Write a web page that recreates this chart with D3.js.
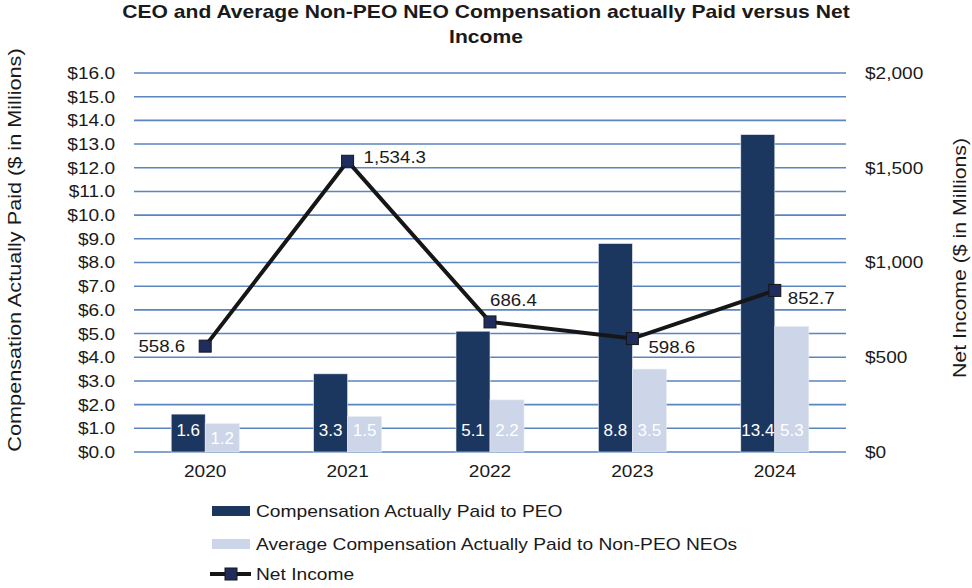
<!DOCTYPE html>
<html>
<head>
<meta charset="utf-8">
<script src="https://cdn.jsdelivr.net/npm/d3@7"></script>
<style>
  body { margin: 0; background: #fff; }
  svg { display: block; font-family: "Liberation Sans", Arial, sans-serif; }
</style>
</head>
<body>
<div id="chart"></div>
<script>
// ------- data -------
var years = ["2020", "2021", "2022", "2023", "2024"];
var peoPaid = [1.6, 3.3, 5.1, 8.8, 13.4];
var neoPaid = [1.2, 1.5, 2.2, 3.5, 5.3];
var netIncome = [558.6, 1534.3, 686.4, 598.6, 852.7];
var leftTicks = d3.range(0, 16.01, 1);
var rightTicks = [0, 500, 1000, 1500, 2000];
var lineLabelPos = ["left", "right", "above", "below", "right"];

var colors = { peo: "#1c375f", neo: "#cdd5e8", grid: "#5a85be", line: "#161616", marker: "#1f2c5e" };

// ------- setup -------
var W = 972, H = 588;
var plot = { left: 134, right: 846, top: 73, bottom: 452 };

var svg = d3.select("#chart").append("svg").attr("width", W).attr("height", H);

var x = d3.scaleBand().domain(years).range([plot.left, plot.right]);
var yL = d3.scaleLinear().domain([0, 16]).range([plot.bottom, plot.top]);
var yR = d3.scaleLinear().domain([0, 2000]).range([plot.bottom, plot.top]);
var barW = 34;

// the original text is a bit wider than Liberation Sans, widen it
function stretch(sel, k) {
  sel.each(function() {
    var len = this.getComputedTextLength();
    d3.select(this).attr("textLength", len * k).attr("lengthAdjust", "spacingAndGlyphs");
  });
}

// title
var titles = svg.append("g").selectAll("text")
  .data(["CEO and Average Non-PEO NEO Compensation actually Paid versus Net", "Income"])
  .enter().append("text")
  .attr("x", 486).attr("y", function(d, i) { return 18 + i * 25; }).attr("text-anchor", "middle")
  .style("font-weight", "bold").style("font-size", "18.5px").attr("fill", "#1a1a1a")
  .text(function(d) { return d; });
stretch(titles, 1.14);

// gridlines
svg.append("g").selectAll("line").data(leftTicks).enter().append("line")
  .attr("x1", plot.left).attr("x2", plot.right)
  .attr("y1", function(d) { return yL(d); }).attr("y2", function(d) { return yL(d); })
  .attr("stroke", colors.grid).attr("stroke-width", 1.6);

// axes (labels only)
var axL = svg.append("g").attr("transform", "translate(" + (plot.left - 16) + ",0)")
  .call(d3.axisLeft(yL).tickValues(leftTicks).tickSize(0).tickFormat(function(d) { return "$" + d3.format(".1f")(d); }));
var axR = svg.append("g").attr("transform", "translate(" + (plot.right + 16) + ",0)")
  .call(d3.axisRight(yR).tickValues(rightTicks).tickSize(0).tickFormat(function(d) { return "$" + d3.format(",")(d); }));
var axB = svg.append("g").attr("transform", "translate(0," + (plot.bottom + 10) + ")")
  .call(d3.axisBottom(x).tickSize(0));
[axL, axR, axB].forEach(function(a) {
  a.select(".domain").remove();
  var t = a.selectAll("text").style("font-size", "17px").attr("fill", "#1a1a1a")
    .style("font-family", "'Liberation Sans', Arial, sans-serif");
  stretch(t, 1.12);
});

// axis titles
var at1 = svg.append("text").attr("transform", "translate(21,250) rotate(-90)").attr("text-anchor", "middle")
  .style("font-size", "19px").attr("fill", "#1a1a1a").text("Compensation Actually Paid ($ in Millions)");
var at2 = svg.append("text").attr("transform", "translate(966,258) rotate(-90)").attr("text-anchor", "middle")
  .style("font-size", "19px").attr("fill", "#1a1a1a").text("Net Income ($ in Millions)");
stretch(at1, 1.14);
stretch(at2, 1.12);

// bars
function drawBars(vals, color, offset) {
  var g = svg.append("g");
  g.selectAll("rect").data(vals).enter().append("rect")
    .attr("x", function(d, i) { return x(years[i]) + x.bandwidth() / 2 + offset; })
    .attr("y", function(d) { return yL(d); })
    .attr("width", barW)
    .attr("height", function(d) { return plot.bottom - yL(d); })
    .attr("fill", color).attr("stroke", "#e6ebf4").attr("stroke-width", 0.6);
  g.selectAll("text").data(vals).enter().append("text")
    .attr("x", function(d, i) { return x(years[i]) + x.bandwidth() / 2 + offset + barW / 2; })
    .attr("y", function(d) { return Math.max(plot.bottom - 22, yL(d) + 14); })
    .attr("dy", "0.35em").attr("text-anchor", "middle")
    .style("font-size", "17px").attr("fill", "#fff")
    .text(function(d) { return d3.format(".1f")(d); });
}
drawBars(peoPaid, colors.peo, -barW);
drawBars(neoPaid, colors.neo, 0);

// net income line
var cx = function(i) { return x(years[i]) + x.bandwidth() / 2; };
var line = d3.line().x(function(d, i) { return cx(i); }).y(function(d) { return yR(d); });
svg.append("path").datum(netIncome).attr("d", line)
  .attr("fill", "none").attr("stroke", colors.line).attr("stroke-width", 4);
svg.append("g").selectAll("rect").data(netIncome).enter().append("rect")
  .attr("x", function(d, i) { return cx(i) - 6; })
  .attr("y", function(d) { return yR(d) - 6; })
  .attr("width", 12).attr("height", 12)
  .attr("fill", colors.marker).attr("stroke", colors.line).attr("stroke-width", 1);

var labelOffsets = {
  left: { dx: -20, dy: 0, anchor: "end" },
  right: { dx: 16, dy: -4, anchor: "start" },
  above: { dx: 0, dy: -22, anchor: "start" },
  below: { dx: 16, dy: 8, anchor: "start" }
};
var lineLabels = svg.append("g").selectAll("text").data(netIncome).enter().append("text")
  .each(function(d, i) {
    var o = labelOffsets[lineLabelPos[i]];
    if (i === 4) o = { dx: 13, dy: 8, anchor: "start" };
    d3.select(this).attr("x", cx(i) + o.dx).attr("y", yR(d) + o.dy)
      .attr("text-anchor", o.anchor);
  })
  .attr("dy", "0.35em").style("font-size", "17px").attr("fill", "#1a1a1a")
  .text(function(d) { return d3.format(",.1f")(d); });
stretch(lineLabels, 1.1);

// legend
var legend = [
  { name: "Compensation Actually Paid to PEO", type: "bar", color: colors.peo, y: 511 },
  { name: "Average Compensation Actually Paid to Non-PEO NEOs", type: "bar", color: colors.neo, y: 544 },
  { name: "Net Income", type: "line", color: colors.marker, y: 574 }
];
var lg = svg.append("g").selectAll("g").data(legend).enter().append("g");
lg.each(function(d) {
  var g = d3.select(this);
  if (d.type === "bar") {
    g.append("rect").attr("x", 212).attr("y", d.y - 5).attr("width", 38).attr("height", 10).attr("fill", d.color);
  } else {
    g.append("line").attr("x1", 210).attr("x2", 251).attr("y1", d.y).attr("y2", d.y)
      .attr("stroke", colors.line).attr("stroke-width", 4);
    g.append("rect").attr("x", 225).attr("y", d.y - 6).attr("width", 12).attr("height", 12)
      .attr("fill", d.color).attr("stroke", colors.line);
  }
  var t = g.append("text").attr("x", 256).attr("y", d.y).attr("dy", "0.35em")
    .style("font-size", "17px").attr("fill", "#1a1a1a").text(d.name);
  stretch(t, 1.13);
});
</script>
</body>
</html>
